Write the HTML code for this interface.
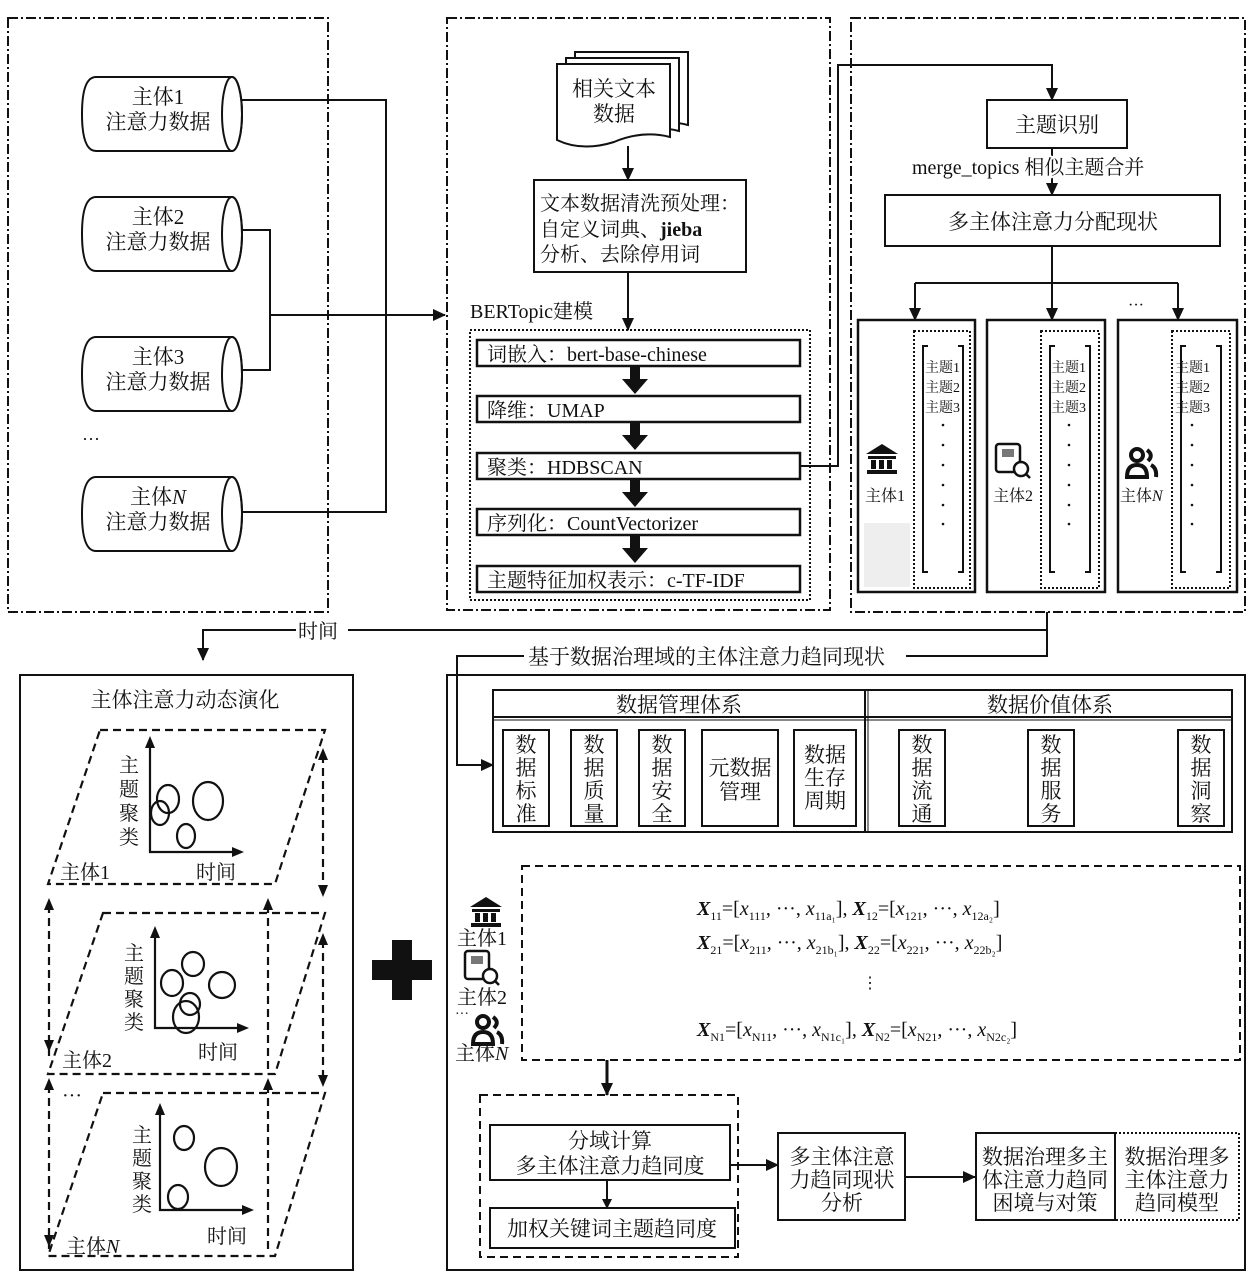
<!DOCTYPE html>
<html><head><meta charset="utf-8"><style>
html,body{margin:0;padding:0;background:#fff;}
svg{display:block;}
text{font-family:"Liberation Serif","Noto Serif CJK SC",serif;fill:#111;}
</style></head><body>
<svg width="1251" height="1272" viewBox="0 0 1251 1272" xmlns="http://www.w3.org/2000/svg">
<defs>
<marker id="a" markerWidth="10" markerHeight="10" refX="9" refY="5" orient="auto" markerUnits="userSpaceOnUse"><path d="M0,0 L10,5 L0,10 z" fill="#111"/></marker>
<marker id="a2" markerWidth="14" markerHeight="14" refX="12" refY="7" orient="auto" markerUnits="userSpaceOnUse"><path d="M0,1 L13,7 L0,13 z" fill="#111"/></marker>
<g id="cyl"><path d="M14,0 H150 A10,37 0 0 1 150,74 H14 Q0,74 0,37 Q0,0 14,0 Z" fill="#fff" stroke="#111" stroke-width="2"/><ellipse cx="150" cy="37" rx="10" ry="37" fill="none" stroke="#111" stroke-width="2"/></g>
<g id="bank"><path d="M0,12 L16,2 L32,12 Z" fill="#111"/><rect x="2" y="14" width="28" height="3" fill="#111"/><rect x="5" y="18" width="5" height="9" fill="#111"/><rect x="13" y="18" width="5" height="9" fill="#111"/><rect x="21" y="18" width="5" height="9" fill="#111"/><rect x="1" y="28" width="30" height="4" fill="#111"/></g>
<g id="book"><rect x="1" y="1" width="24" height="28" rx="3" fill="none" stroke="#111" stroke-width="2.5"/><rect x="7" y="6" width="12" height="8" fill="#777"/><circle cx="26" cy="26" r="7" fill="#fff" stroke="#111" stroke-width="2.5"/><line x1="31" y1="31" x2="35" y2="35" stroke="#111" stroke-width="2.5"/></g>
<g id="ppl"><circle cx="11" cy="8" r="6" fill="none" stroke="#111" stroke-width="4"/><path d="M1,30 Q1,18 11,18 Q21,18 21,30 Z" fill="none" stroke="#111" stroke-width="4"/><path d="M21,3 Q28,8 22,14 M25,18 Q31,21 30,30" fill="none" stroke="#111" stroke-width="4"/></g>
</defs>

<!-- Panel A -->
<rect x="8" y="18" width="320" height="594" fill="none" stroke="#111" stroke-width="2" stroke-dasharray="10,3,2,3"/>
<use href="#cyl" x="82" y="77"/><text x="158" y="104" font-size="21" text-anchor="middle">主体1</text><text x="158" y="129" font-size="21" text-anchor="middle">注意力数据</text>
<use href="#cyl" x="82" y="197"/><text x="158" y="224" font-size="21" text-anchor="middle">主体2</text><text x="158" y="249" font-size="21" text-anchor="middle">注意力数据</text>
<use href="#cyl" x="82" y="337"/><text x="158" y="364" font-size="21" text-anchor="middle">主体3</text><text x="158" y="389" font-size="21" text-anchor="middle">注意力数据</text>
<text x="82" y="445" font-size="18">···</text>
<use href="#cyl" x="82" y="477"/><text x="158" y="504" font-size="21" text-anchor="middle">主体<tspan font-style="italic">N</tspan></text><text x="158" y="529" font-size="21" text-anchor="middle">注意力数据</text>
<g stroke="#111" stroke-width="2" fill="none">
<polyline points="242,100 386,100 386,512 242,512"/>
<polyline points="242,230 270,230 270,370 242,370"/>
<line x1="270" y1="315" x2="445" y2="315" marker-end="url(#a2)"/>
</g>

<!-- Panel B -->
<rect x="447" y="18" width="383" height="592" fill="none" stroke="#111" stroke-width="2" stroke-dasharray="10,3,2,3"/>
<g fill="#fff" stroke="#111" stroke-width="2">
<path d="M575,52 H688 V125 Q660,118 632,130 Q600,140 575,128 Z"/>
<path d="M566,58 H679 V131 Q651,124 623,136 Q591,146 566,134 Z"/>
<path d="M557,64 H670 V137 Q642,130 614,142 Q582,152 557,140 Z"/>
</g>
<text x="614" y="96" font-size="21" text-anchor="middle">相关文本</text><text x="614" y="121" font-size="21" text-anchor="middle">数据</text>
<line x1="628" y1="146" x2="628" y2="180" stroke="#111" stroke-width="2" marker-end="url(#a2)"/>
<rect x="534" y="180" width="212" height="92" fill="#fff" stroke="#111" stroke-width="2"/>
<text x="540" y="210" font-size="20">文本数据清洗预处理：</text>
<text x="540" y="236" font-size="20">自定义词典、<tspan font-weight="bold">jieba</tspan></text>
<text x="540" y="261" font-size="20">分析、去除停用词</text>
<line x1="628" y1="272" x2="628" y2="330" stroke="#111" stroke-width="2" marker-end="url(#a2)"/>
<text x="470" y="318" font-size="20">BERTopic建模</text>
<rect x="470" y="330" width="340" height="270" fill="none" stroke="#111" stroke-width="2" stroke-dasharray="2,2"/>
<g fill="#fff" stroke="#111" stroke-width="2.5">
<rect x="477" y="340" width="323" height="26"/><rect x="477" y="396" width="323" height="26"/><rect x="477" y="453" width="323" height="26"/><rect x="477" y="509" width="323" height="26"/><rect x="477" y="566" width="323" height="26"/>
</g>
<g font-size="20">
<text x="487" y="361">词嵌入：bert-base-chinese</text>
<text x="487" y="417">降维：UMAP</text>
<text x="487" y="474">聚类：HDBSCAN</text>
<text x="487" y="530">序列化：CountVectorizer</text>
<text x="487" y="587">主题特征加权表示：c-TF-IDF</text>
</g>
<g fill="#111">
<path d="M630,367 h10 v12 h8 l-13,15 l-13,-15 h8z"/>
<path d="M630,423 h10 v12 h8 l-13,15 l-13,-15 h8z"/>
<path d="M630,480 h10 v12 h8 l-13,15 l-13,-15 h8z"/>
<path d="M630,536 h10 v12 h8 l-13,15 l-13,-15 h8z"/>
</g>

<!-- Panel C -->
<rect x="851" y="18" width="394" height="594" fill="none" stroke="#111" stroke-width="2" stroke-dasharray="10,3,2,3"/>
<polyline points="800,466 838,466 838,65 1052,65 1052,100" fill="none" stroke="#111" stroke-width="2" marker-end="url(#a2)"/>
<rect x="987" y="100" width="140" height="48" fill="#fff" stroke="#111" stroke-width="2"/>
<text x="1057" y="132" font-size="21" text-anchor="middle">主题识别</text>
<line x1="1052" y1="148" x2="1052" y2="195" stroke="#111" stroke-width="2" marker-end="url(#a2)"/>
<text x="912" y="174" font-size="20" stroke="#fff" stroke-width="4" paint-order="stroke">merge_topics 相似主题合并</text>
<rect x="885" y="195" width="335" height="51" fill="#fff" stroke="#111" stroke-width="2"/>
<text x="1053" y="229" font-size="21" text-anchor="middle">多主体注意力分配现状</text>
<g stroke="#111" stroke-width="2" fill="none">
<line x1="1052" y1="246" x2="1052" y2="320" marker-end="url(#a2)"/>
<line x1="915" y1="283" x2="1178" y2="283"/>
<line x1="915" y1="283" x2="915" y2="320" marker-end="url(#a2)"/>
<line x1="1178" y1="283" x2="1178" y2="320" marker-end="url(#a2)"/>
</g>
<text x="1128" y="310" font-size="16">···</text>
<g stroke="#111" stroke-width="2.5" fill="#fff">
<rect x="858" y="320" width="117" height="272"/><rect x="987" y="320" width="118" height="272"/><rect x="1118" y="320" width="119" height="272"/>
</g>
<rect x="864" y="523" width="46" height="64" fill="#eee"/>
<g stroke="#111" stroke-width="2" fill="none" stroke-dasharray="2,2">
<rect x="914" y="331" width="56" height="257"/><rect x="1041" y="331" width="58" height="257"/><rect x="1172" y="331" width="58" height="257"/>
</g>
<g stroke="#111" stroke-width="2" fill="none">
<path d="M928,346 h-5 v226 h5 M958,346 h5 v226 h-5"/>
<path d="M1055,346 h-5 v226 h5 M1085,346 h5 v226 h-5"/>
<path d="M1186,346 h-5 v226 h5 M1216,346 h5 v226 h-5"/>
</g>
<g font-size="14">
<text x="925" y="372">主题1</text><text x="925" y="392">主题2</text><text x="925" y="412">主题3</text>
<text x="1051" y="372">主题1</text><text x="1051" y="392">主题2</text><text x="1051" y="412">主题3</text>
<text x="1175" y="372">主题1</text><text x="1175" y="392">主题2</text><text x="1175" y="412">主题3</text>
</g>
<g fill="#111">
<circle cx="943" cy="425" r="1.3"/><circle cx="943" cy="445" r="1.3"/><circle cx="943" cy="465" r="1.3"/><circle cx="943" cy="485" r="1.3"/><circle cx="943" cy="505" r="1.3"/><circle cx="943" cy="524" r="1.3"/>
<circle cx="1069" cy="425" r="1.3"/><circle cx="1069" cy="445" r="1.3"/><circle cx="1069" cy="465" r="1.3"/><circle cx="1069" cy="485" r="1.3"/><circle cx="1069" cy="505" r="1.3"/><circle cx="1069" cy="524" r="1.3"/>
<circle cx="1192" cy="425" r="1.3"/><circle cx="1192" cy="445" r="1.3"/><circle cx="1192" cy="465" r="1.3"/><circle cx="1192" cy="485" r="1.3"/><circle cx="1192" cy="505" r="1.3"/><circle cx="1192" cy="524" r="1.3"/>
</g>
<use href="#bank" x="866" y="442"/><text x="865" y="501" font-size="16">主体1</text>
<use href="#book" x="995" y="443"/><text x="993" y="501" font-size="16">主体2</text>
<use href="#ppl" x="1126" y="447"/><text x="1120" y="501" font-size="16">主体<tspan font-style="italic">N</tspan></text>

<!-- connectors -->
<g stroke="#111" stroke-width="2" fill="none">
<polyline points="1047,612 1047,630 203,630 203,660" marker-end="url(#a2)"/>
<polyline points="1047,630 1047,656 457,656 457,765 493,765" marker-end="url(#a2)"/>
</g>
<rect x="296" y="620" width="52" height="20" fill="#fff"/><text x="298" y="638" font-size="20">时间</text>
<rect x="524" y="646" width="382" height="20" fill="#fff"/><text x="528" y="664" font-size="21">基于数据治理域的主体注意力趋同现状</text>

<!-- Panel D -->
<rect x="20" y="675" width="333" height="595" fill="none" stroke="#111" stroke-width="2"/>
<text x="185" y="707" font-size="21" text-anchor="middle">主体注意力动态演化</text>
<g stroke="#111" stroke-width="2.2" fill="none" stroke-dasharray="8,5">
<path d="M100,730 H325 L275,884 H48 Z"/>
<path d="M103,913 H325 L275,1074 H48 Z"/>
<path d="M103,1093 H325 L275,1256 H48 Z"/>
<line x1="49" y1="905" x2="49" y2="1060"/>
<line x1="268" y1="905" x2="268" y2="1070"/>
<line x1="323" y1="755" x2="323" y2="890"/>
<line x1="323" y1="940" x2="323" y2="1080"/>
<line x1="49" y1="1085" x2="49" y2="1250"/>
<line x1="268" y1="1085" x2="268" y2="1250"/>
</g>
<g fill="#111">
<path d="M44,910 l5,-12 l5,12z"/><path d="M263,910 l5,-12 l5,12z"/><path d="M318,760 l5,-12 l5,12z"/><path d="M318,885 l5,12 l5,-12z"/>
<path d="M44,1040 l5,12 l5,-12z"/><path d="M318,945 l5,-12 l5,12z"/><path d="M318,1075 l5,12 l5,-12z"/>
<path d="M44,1090 l5,-12 l5,12z"/><path d="M263,1090 l5,-12 l5,12z"/><path d="M44,1235 l5,12 l5,-12z"/>
</g>
<g stroke="#111" stroke-width="2.2" fill="none">
<polyline points="150,745 150,852 235,852" />
<ellipse cx="168" cy="799" rx="11" ry="14"/><ellipse cx="160" cy="813" rx="9" ry="12"/><ellipse cx="208" cy="801" rx="15" ry="19"/><ellipse cx="186" cy="836" rx="9" ry="12"/>
<polyline points="155,935 155,1028 240,1028"/>
<ellipse cx="193" cy="964" rx="11" ry="12"/><ellipse cx="172" cy="983" rx="11" ry="13"/><ellipse cx="222" cy="985" rx="13" ry="13"/><ellipse cx="190" cy="1004" rx="10" ry="11"/><ellipse cx="186" cy="1017" rx="13" ry="16"/>
<polyline points="160,1112 160,1210 245,1210"/>
<ellipse cx="184" cy="1138" rx="10" ry="12"/><ellipse cx="221" cy="1167" rx="16" ry="19"/><ellipse cx="178" cy="1197" rx="10" ry="12"/>
</g>
<g fill="#111"><path d="M145,748 l5,-12 l5,12z"/><path d="M232,847 l12,5 l-12,5z"/><path d="M150,938 l5,-12 l5,12z"/><path d="M237,1023 l12,5 l-12,5z"/><path d="M155,1115 l5,-12 l5,12z"/><path d="M242,1205 l12,5 l-12,5z"/></g>
<g font-size="20">
<text x="119" y="772">主</text><text x="119" y="796">题</text><text x="119" y="820">聚</text><text x="119" y="844">类</text>
<text x="60" y="879">主体1</text><text x="196" y="879">时间</text>
<text x="124" y="960">主</text><text x="124" y="983">题</text><text x="124" y="1006">聚</text><text x="124" y="1029">类</text>
<text x="62" y="1067">主体2</text><text x="198" y="1059">时间</text>
<text x="62" y="1102">···</text>
<text x="132" y="1142">主</text><text x="132" y="1165">题</text><text x="132" y="1188">聚</text><text x="132" y="1211">类</text>
<text x="66" y="1253">主体<tspan font-style="italic">N</tspan></text><text x="207" y="1243">时间</text>
</g>

<!-- plus -->
<rect x="372" y="960" width="60" height="20" fill="#111"/><rect x="392" y="940" width="20" height="60" fill="#111"/>

<!-- Panel E -->
<rect x="447" y="675" width="798" height="595" fill="none" stroke="#111" stroke-width="2"/>
<rect x="493" y="690" width="739" height="142" fill="none" stroke="#111" stroke-width="2"/>
<line x1="493" y1="717" x2="1232" y2="717" stroke="#111" stroke-width="2"/>
<line x1="493" y1="720" x2="1232" y2="720" stroke="#111" stroke-width="1"/>
<line x1="865" y1="690" x2="865" y2="832" stroke="#111" stroke-width="2"/>
<line x1="868" y1="690" x2="868" y2="832" stroke="#111" stroke-width="1"/>
<text x="679" y="712" font-size="21" text-anchor="middle">数据管理体系</text>
<text x="1050" y="712" font-size="21" text-anchor="middle">数据价值体系</text>
<g fill="#fff" stroke="#111" stroke-width="2">
<rect x="503" y="730" width="46" height="96"/><rect x="571" y="730" width="46" height="96"/><rect x="639" y="730" width="46" height="96"/><rect x="702" y="730" width="76" height="96"/><rect x="794" y="730" width="62" height="96"/>
<rect x="899" y="730" width="46" height="96"/><rect x="1028" y="730" width="46" height="96"/><rect x="1178" y="730" width="46" height="96"/>
</g>
<g font-size="21" text-anchor="middle">
<text x="526" y="752">数</text><text x="526" y="775">据</text><text x="526" y="798">标</text><text x="526" y="821">准</text>
<text x="594" y="752">数</text><text x="594" y="775">据</text><text x="594" y="798">质</text><text x="594" y="821">量</text>
<text x="662" y="752">数</text><text x="662" y="775">据</text><text x="662" y="798">安</text><text x="662" y="821">全</text>
<text x="740" y="775">元数据</text><text x="740" y="799">管理</text>
<text x="825" y="762">数据</text><text x="825" y="785">生存</text><text x="825" y="808">周期</text>
<text x="922" y="752">数</text><text x="922" y="775">据</text><text x="922" y="798">流</text><text x="922" y="821">通</text>
<text x="1051" y="752">数</text><text x="1051" y="775">据</text><text x="1051" y="798">服</text><text x="1051" y="821">务</text>
<text x="1201" y="752">数</text><text x="1201" y="775">据</text><text x="1201" y="798">洞</text><text x="1201" y="821">察</text>
</g>
<rect x="522" y="866" width="718" height="194" fill="none" stroke="#111" stroke-width="2" stroke-dasharray="8,5"/>
<use href="#bank" x="470" y="895"/><text x="457" y="945" font-size="20">主体1</text>
<use href="#book" x="464" y="950"/><text x="457" y="1004" font-size="20">主体2</text>
<text x="455" y="1018" font-size="14">···</text>
<use href="#ppl" x="472" y="1014"/><text x="455" y="1060" font-size="20">主体<tspan font-style="italic">N</tspan></text>
<g font-size="20">
<text x="697" y="915"><tspan font-weight="bold" font-style="italic">X</tspan><tspan font-size="12" dy="5">11</tspan><tspan dy="-5">=[</tspan><tspan font-style="italic">x</tspan><tspan font-size="12" dy="5">111</tspan><tspan dy="-5">, ···, </tspan><tspan font-style="italic">x</tspan><tspan font-size="12" dy="5">11a₁</tspan><tspan dy="-5">], </tspan><tspan font-weight="bold" font-style="italic">X</tspan><tspan font-size="12" dy="5">12</tspan><tspan dy="-5">=[</tspan><tspan font-style="italic">x</tspan><tspan font-size="12" dy="5">121</tspan><tspan dy="-5">, ···, </tspan><tspan font-style="italic">x</tspan><tspan font-size="12" dy="5">12a₂</tspan><tspan dy="-5">]</tspan></text>
<text x="697" y="949"><tspan font-weight="bold" font-style="italic">X</tspan><tspan font-size="12" dy="5">21</tspan><tspan dy="-5">=[</tspan><tspan font-style="italic">x</tspan><tspan font-size="12" dy="5">211</tspan><tspan dy="-5">, ···, </tspan><tspan font-style="italic">x</tspan><tspan font-size="12" dy="5">21b₁</tspan><tspan dy="-5">], </tspan><tspan font-weight="bold" font-style="italic">X</tspan><tspan font-size="12" dy="5">22</tspan><tspan dy="-5">=[</tspan><tspan font-style="italic">x</tspan><tspan font-size="12" dy="5">221</tspan><tspan dy="-5">, ···, </tspan><tspan font-style="italic">x</tspan><tspan font-size="12" dy="5">22b₂</tspan><tspan dy="-5">]</tspan></text>
<text x="862" y="988" font-size="16">⋮</text>
<text x="697" y="1036"><tspan font-weight="bold" font-style="italic">X</tspan><tspan font-size="12" dy="5">N1</tspan><tspan dy="-5">=[</tspan><tspan font-style="italic">x</tspan><tspan font-size="12" dy="5">N11</tspan><tspan dy="-5">, ···, </tspan><tspan font-style="italic">x</tspan><tspan font-size="12" dy="5">N1c₁</tspan><tspan dy="-5">], </tspan><tspan font-weight="bold" font-style="italic">X</tspan><tspan font-size="12" dy="5">N2</tspan><tspan dy="-5">=[</tspan><tspan font-style="italic">x</tspan><tspan font-size="12" dy="5">N21</tspan><tspan dy="-5">, ···, </tspan><tspan font-style="italic">x</tspan><tspan font-size="12" dy="5">N2c₂</tspan><tspan dy="-5">]</tspan></text>
</g>
<line x1="607" y1="1060" x2="607" y2="1095" stroke="#111" stroke-width="3" marker-end="url(#a2)"/>
<rect x="480" y="1095" width="258" height="162" fill="none" stroke="#111" stroke-width="2" stroke-dasharray="8,5"/>
<rect x="490" y="1125" width="240" height="55" fill="#fff" stroke="#111" stroke-width="2"/>
<text x="610" y="1148" font-size="21" text-anchor="middle">分域计算</text><text x="610" y="1173" font-size="21" text-anchor="middle">多主体注意力趋同度</text>
<line x1="607" y1="1180" x2="607" y2="1208" stroke="#111" stroke-width="2" marker-end="url(#a)"/>
<rect x="490" y="1208" width="245" height="40" fill="#fff" stroke="#111" stroke-width="2"/>
<text x="612" y="1236" font-size="21" text-anchor="middle">加权关键词主题趋同度</text>
<line x1="730" y1="1165" x2="778" y2="1165" stroke="#111" stroke-width="2" marker-end="url(#a2)"/>
<rect x="778" y="1133" width="127" height="87" fill="#fff" stroke="#111" stroke-width="2"/>
<text x="842" y="1164" font-size="21" text-anchor="middle">多主体注意</text><text x="842" y="1187" font-size="21" text-anchor="middle">力趋同现状</text><text x="842" y="1210" font-size="21" text-anchor="middle">分析</text>
<line x1="905" y1="1177" x2="975" y2="1177" stroke="#111" stroke-width="2" marker-end="url(#a2)"/>
<rect x="976" y="1133" width="139" height="87" fill="#fff" stroke="#111" stroke-width="2"/>
<text x="1045" y="1164" font-size="21" text-anchor="middle">数据治理多主</text><text x="1045" y="1187" font-size="21" text-anchor="middle">体注意力趋同</text><text x="1045" y="1210" font-size="21" text-anchor="middle">困境与对策</text>
<rect x="1115" y="1133" width="124" height="87" fill="none" stroke="#111" stroke-width="2" stroke-dasharray="2,2"/>
<text x="1177" y="1164" font-size="21" text-anchor="middle">数据治理多</text><text x="1177" y="1187" font-size="21" text-anchor="middle">主体注意力</text><text x="1177" y="1210" font-size="21" text-anchor="middle">趋同模型</text>
</svg>
</body></html>
